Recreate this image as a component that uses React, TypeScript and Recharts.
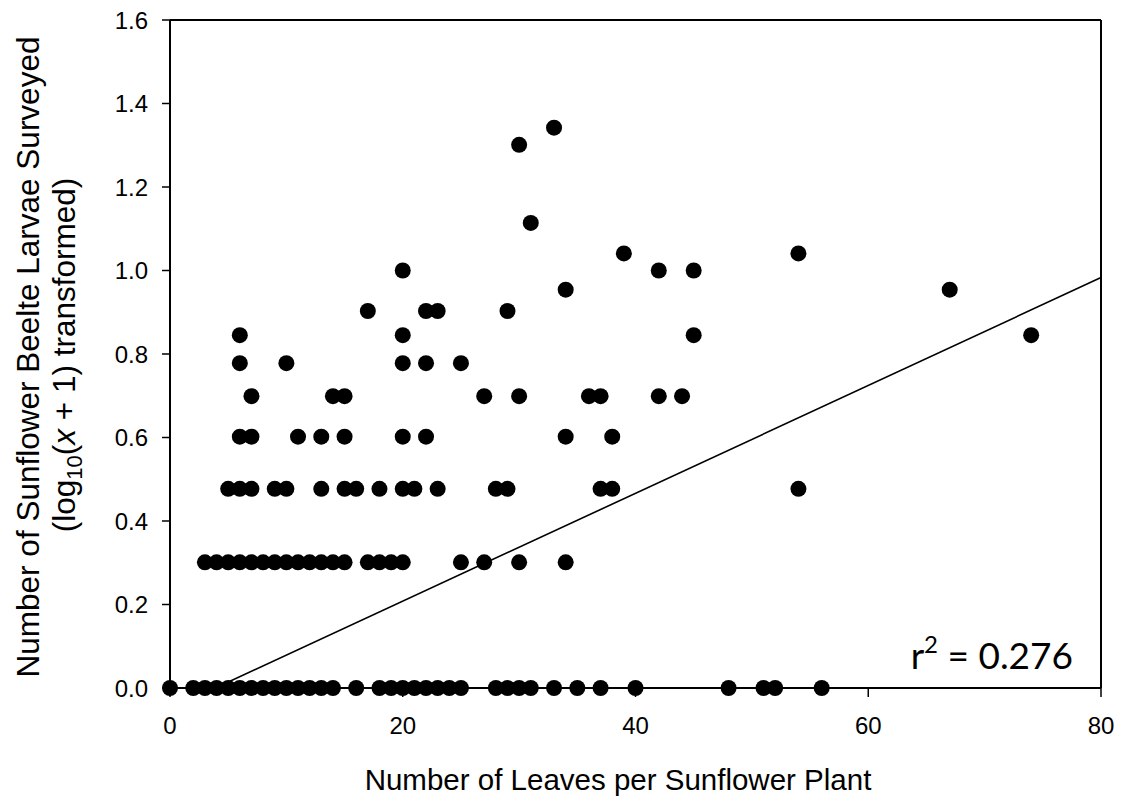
import React from 'react';
import { ScatterChart, Scatter, XAxis, YAxis, ReferenceLine } from 'recharts';

// Number of leaves per plant (x) and log10(larvae + 1) (y)
const leaves = [
  0, 2, 3, 4, 5, 6, 7, 8, 9, 10, 11, 12, 13, 14, 16, 18, 19, 20, 21, 22, 23, 24, 25, 28, 29, 30, 31, 33, 35, 37, 40, 48, 51, 52, 56,
  3, 4, 5, 6, 7, 8, 9, 10, 11, 12, 13, 14, 15, 17, 18, 19, 20, 25, 27, 30, 34,
  5, 6, 7, 9, 10, 13, 15, 16, 18, 20, 21, 23, 28, 29, 37, 38, 54,
  6, 7, 11, 13, 15, 20, 22, 34, 38,
  7, 14, 15, 27, 30, 36, 37, 42, 44,
  6, 10, 20, 22, 25,
  6, 20, 45, 74,
  17, 22, 23, 29,
  34, 67,
  20, 42, 45,
  39, 54,
  31,
  30,
  33,
];

const larvae = [
  0, 0, 0, 0, 0, 0, 0, 0, 0, 0, 0, 0, 0, 0, 0, 0, 0, 0, 0, 0, 0, 0, 0, 0, 0, 0, 0, 0, 0, 0, 0, 0, 0, 0, 0,
  0.301, 0.301, 0.301, 0.301, 0.301, 0.301, 0.301, 0.301, 0.301, 0.301, 0.301, 0.301, 0.301, 0.301, 0.301, 0.301, 0.301, 0.301, 0.301, 0.301, 0.301,
  0.477, 0.477, 0.477, 0.477, 0.477, 0.477, 0.477, 0.477, 0.477, 0.477, 0.477, 0.477, 0.477, 0.477, 0.477, 0.477, 0.477,
  0.602, 0.602, 0.602, 0.602, 0.602, 0.602, 0.602, 0.602, 0.602,
  0.699, 0.699, 0.699, 0.699, 0.699, 0.699, 0.699, 0.699, 0.699,
  0.778, 0.778, 0.778, 0.778, 0.778,
  0.845, 0.845, 0.845, 0.845,
  0.903, 0.903, 0.903, 0.903,
  0.954, 0.954,
  1.0, 1.0, 1.0,
  1.041, 1.041,
  1.114,
  1.301,
  1.342,
];

// Regression line end points
const trendX = [3.9, 80];
const trendY = [0, 0.983];

const xTicks = [0, 20, 40, 60, 80];
const yTicks = [0, 0.2, 0.4, 0.6, 0.8, 1.0, 1.2, 1.4, 1.6];

const points = leaves.map((x, i) => ({ x, y: larvae[i] }));
const trend = trendX.map((x, i) => ({ x, y: trendY[i] }));

const FONT = '"Liberation Sans", Arial, sans-serif';

const Dot = (props: any) => {
  const { cx, cy } = props;
  if (cx == null || cy == null) return null;
  return <circle cx={cx} cy={cy} r={8} fill="#000" />;
};

const NoDot = () => <g />;

export default function App() {
  return (
    <div style={{ position: 'absolute', left: 0, top: 0, width: 1122, height: 804, background: '#fff' }}>
      <ScatterChart
        width={1122}
        height={804}
        margin={{ top: 20, right: 21, bottom: 56, left: 70 }}
        style={{ overflow: 'visible' }}
      >
        <XAxis
          type="number"
          dataKey="x"
          domain={[0, 80]}
          ticks={xTicks}
          height={60}
          tickSize={9}
          tickMargin={20}
          axisLine={{ stroke: '#000', strokeWidth: 2 }}
          tickLine={{ stroke: '#000', strokeWidth: 1.5 }}
          tick={{ fill: '#000', fontSize: 24, fontFamily: FONT }}
        />
        <YAxis
          type="number"
          dataKey="y"
          domain={[0, 1.6]}
          ticks={yTicks}
          width={100}
          tickSize={8}
          tickMargin={14}
          tickFormatter={(v: number) => v.toFixed(1)}
          axisLine={{ stroke: '#000', strokeWidth: 2 }}
          tickLine={{ stroke: '#000', strokeWidth: 1.5 }}
          tick={{ fill: '#000', fontSize: 24, fontFamily: FONT }}
        />
        <ReferenceLine y={1.6} stroke="#000" strokeWidth={2} />
        <ReferenceLine x={80} stroke="#000" strokeWidth={2} />
        <Scatter
          data={trend}
          line={{ stroke: '#000', strokeWidth: 1.6 }}
          shape={NoDot}
          isAnimationActive={false}
        />
        <Scatter data={points} shape={Dot} isAnimationActive={false} />
      </ScatterChart>
      <svg
        width={1122}
        height={804}
        style={{ position: 'absolute', left: 0, top: 0, pointerEvents: 'none' }}
      >
        <text
          x={39}
          y={357}
          transform="rotate(-90, 39, 357)"
          textAnchor="middle"
          fontFamily={FONT}
          fontSize={31.5}
          fill="#000"
        >
          Number of Sunflower Beelte Larvae Surveyed
        </text>
        <text
          x={75}
          y={355}
          transform="rotate(-90, 75, 355)"
          textAnchor="middle"
          fontFamily={FONT}
          fontSize={31.5}
          fill="#000"
        >
          (log
          <tspan fontSize={22} dy={7}>10</tspan>
          <tspan dy={-7}>(</tspan>
          <tspan fontStyle="italic">x</tspan>
          <tspan> + 1) transformed)</tspan>
        </text>
        <text
          x={618}
          y={790}
          textAnchor="middle"
          fontFamily={FONT}
          fontSize={29.5}
          fill="#000"
        >
          Number of Leaves per Sunflower Plant
        </text>
        <text
          x={1073}
          y={669}
          textAnchor="end"
          fontFamily="Lato, 'Open Sans', sans-serif"
          fontSize={37}
          fill="#000"
        >
          r<tspan fontSize={24} dy={-16}>2</tspan>
          <tspan dy={16}> = 0.276</tspan>
        </text>
      </svg>
    </div>
  );
}
